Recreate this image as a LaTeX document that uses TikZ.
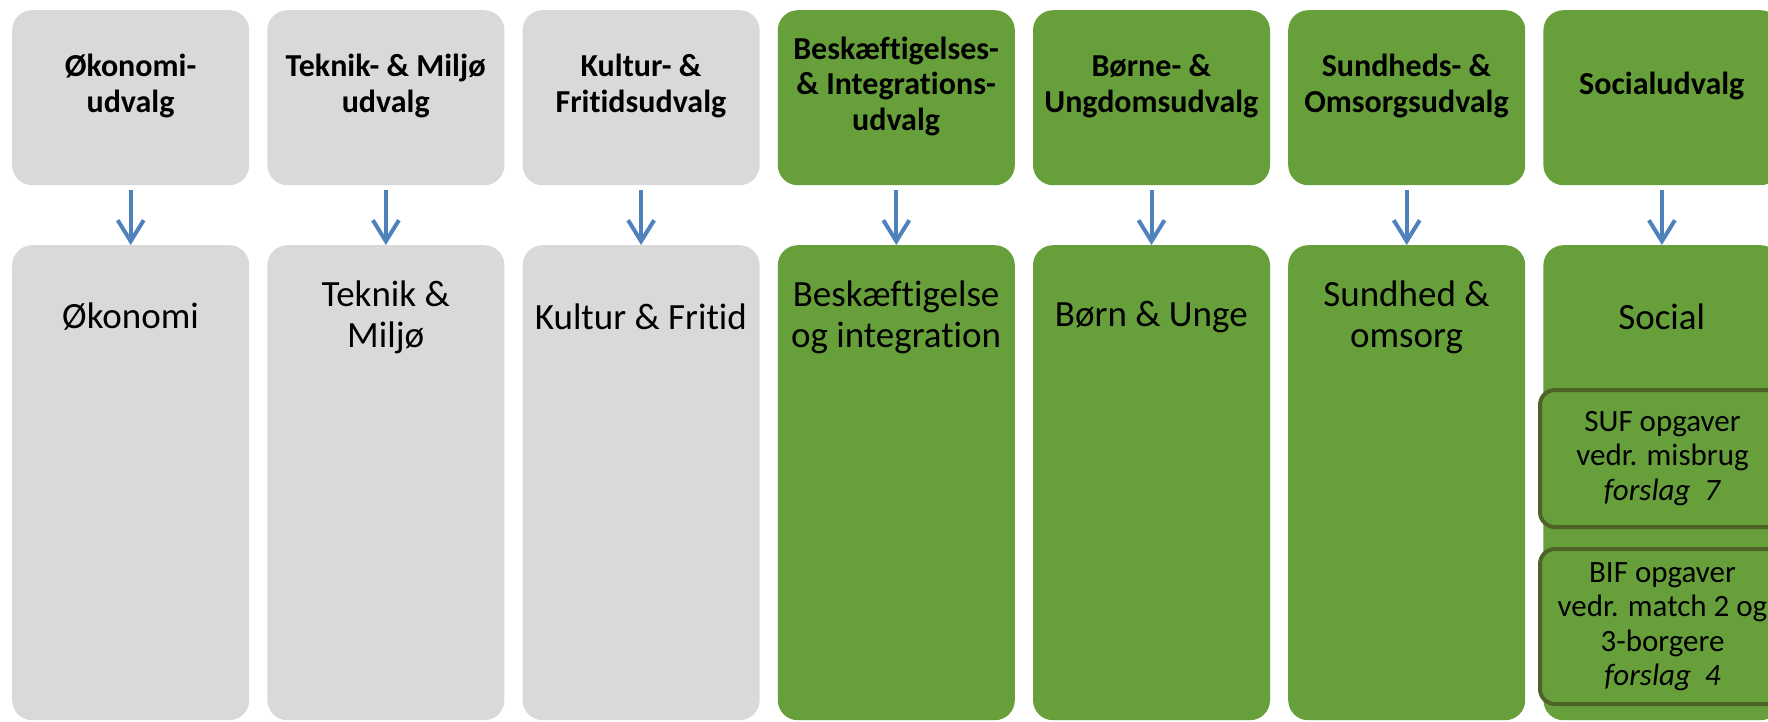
\documentclass[tikz,border=0pt]{standalone}
\usepackage{fontspec}
\setmainfont{Carlito}[Ligatures=NoCommon]
\usetikzlibrary{arrows.meta}
\definecolor{grayfill}{RGB}{217,217,217}
\definecolor{greenfill}{RGB}{103,160,58}
\definecolor{arrowblue}{RGB}{79,129,189}
\definecolor{olivedark}{RGB}{79,98,40}
\begin{document}
\begin{tikzpicture}[x=1pt,y=-1pt,
  topbox/.style={anchor=north west, minimum width=237pt, minimum height=175pt, rounded corners=20pt, inner sep=0pt, draw=none},
  botbox/.style={anchor=north west, minimum width=237pt, minimum height=475pt, rounded corners=20pt, inner sep=0pt, draw=none},
  toptext/.style={align=center, font=\fontsize{32}{35.5}\selectfont\bfseries, inner sep=0pt},
  bottext/.style={align=center, font=\fontsize{37}{41}\selectfont, inner sep=0pt},
  subbox/.style={anchor=north west, minimum width=245pt, rounded corners=15pt, draw=olivedark, line width=4pt, fill=greenfill, inner sep=0pt},
  subtext/.style={align=center, font=\fontsize{31}{34.5}\selectfont, inner sep=0pt},
  conn/.style={draw=arrowblue, line width=4pt, shorten <=5pt, -{Straight Barb[length=21pt,width=26pt]}}
]
\useasboundingbox (0,0) rectangle (1768,721);
\clip (0,0) rectangle (1768,721);
% top boxes
\node[topbox, fill=grayfill]  (t1) at (12,10) {};
\node[topbox, fill=grayfill]  (t2) at (267.2,10) {};
\node[topbox, fill=grayfill]  (t3) at (522.4,10) {};
\node[topbox, fill=greenfill] (t4) at (777.6,10) {};
\node[topbox, fill=greenfill] (t5) at (1032.8,10) {};
\node[topbox, fill=greenfill] (t6) at (1288,10) {};
\node[topbox, fill=greenfill] (t7) at (1543.2,10) {};
% bottom boxes
\node[botbox, fill=grayfill]  (b1) at (12,245) {};
\node[botbox, fill=grayfill]  (b2) at (267.2,245) {};
\node[botbox, fill=grayfill]  (b3) at (522.4,245) {};
\node[botbox, fill=greenfill] (b4) at (777.6,245) {};
\node[botbox, fill=greenfill] (b5) at (1032.8,245) {};
\node[botbox, fill=greenfill] (b6) at (1288,245) {};
\node[botbox, fill=greenfill] (b7) at (1543.2,245) {};
% top texts
\node[toptext] (tt1) at (130.5,86) {Økonomi-\\udvalg};
\node[toptext] (tt2) at (385.7,86) {Teknik- \& Miljø\\udvalg};
\node[toptext] (tt3) at (640.9,86) {Kultur- \&\\Fritidsudvalg};
\node[toptext] (tt4) at (896.1,86) {Beskæftigelses-\\\& Integrations-\\udvalg};
\node[toptext] (tt5) at (1151.3,86) {Børne- \&\\Ungdomsudvalg};
\node[toptext] (tt6) at (1406.5,86) {Sundheds- \&\\Omsorgsudvalg};
\node[toptext] (tt7) at (1661.7,86) {Socialudvalg};
% bottom texts
\node[bottext] (bt1) at (130.5,317) {Økonomi};
\node[bottext] (bt2) at (385.7,317) {Teknik \&\\Miljø};
\node[bottext] (bt3) at (640.9,317) {Kultur \& Fritid};
\node[bottext] (bt4) at (896.1,317) {Beskæftigelse\\og integration};
\node[bottext] (bt5) at (1151.3,317) {Børn \& Unge};
\node[bottext] (bt6) at (1406.5,317) {Sundhed \&\\omsorg};
\node[bottext] (bt7) at (1661.7,317) {Social};
% sub boxes
\node[subbox, minimum height=137pt] (s1) at (1538,388) {};
\node[subbox, minimum height=155pt] (s2) at (1538,547) {};
\node[subtext] (st1) at (s1.center) {SUF opgaver\\vedr. misbrug\\\textit{forslag~ 7}};
\node[subtext] (st2) at (s2.center) {BIF opgaver\\vedr. match 2 og\\3-borgere\\\textit{forslag~ 4}};
% connectors
\foreach \i in {1,...,7} {
  \draw[conn] (t\i.south) -- (b\i.north);
}
\end{tikzpicture}
\end{document}
